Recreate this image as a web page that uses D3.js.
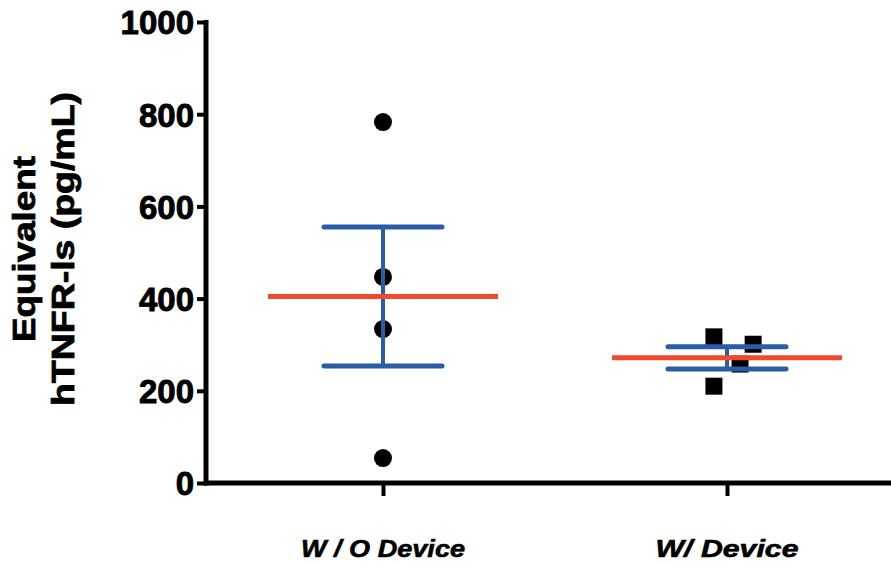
<!DOCTYPE html>
<html>
<head>
<meta charset="utf-8">
<script src="https://cdn.jsdelivr.net/npm/d3@7"></script>
<style>
  body { margin: 0; background: #fff; }
  text { font-family: "Liberation Sans", Arial, sans-serif; font-weight: bold; }
</style>
</head>
<body>
<svg id="drawing_region"></svg>
<script>
// data
const categories = ["W / O Device", "W/ Device"];
const withoutDevice = [783, 447, 334, 54];
const withDevice = [317, 301, 258, 210];
const jitterWithout = [0, 0, 0, 0];
const jitterWith = [-0.038, 0.076, 0.038, -0.038];
const yTicks = [0, 200, 400, 600, 800, 1000];

const groups = [
    { name: categories[0], values: withoutDevice, jitter: jitterWithout, shape: 'circle' },
    { name: categories[1], values: withDevice, jitter: jitterWith, shape: 'square' }
];

const width = 891, height = 563;

const svg = d3.select('#drawing_region')
    .attr('width', width)
    .attr('height', height);

const y = d3.scaleLinear().domain([0, 1000]).range([483, 22]);
const x = d3.scalePoint().domain(categories).range([211, 899]).padding(0.5);
const step = x.step();

const blue = '#2b5ca8', red = '#f2482e';

// y axis
const yAxis = svg.append('g')
    .attr('transform', 'translate(206,0)')
    .call(d3.axisLeft(y).tickValues(yTicks).tickFormat(d3.format('d'))
        .tickSize(9).tickPadding(3).tickSizeOuter(0));
yAxis.select('.domain').remove();
yAxis.selectAll('.tick line').attr('stroke', '#000').attr('stroke-width', 4);
yAxis.selectAll('.tick text')
    .attr('fill', '#000')
    .attr('stroke', '#000')
    .attr('stroke-width', 0.9)
    .style('font-size', '33px')
    .attr('dy', '0.36em');
svg.append('line')
    .attr('x1', 206).attr('x2', 206)
    .attr('y1', y(1000) - 2).attr('y2', y(0) + 2.5)
    .attr('stroke', '#000').attr('stroke-width', 5);

// x axis
const xAxis = svg.append('g')
    .attr('transform', `translate(0,${y(0)})`)
    .call(d3.axisBottom(x).tickSize(13).tickSizeOuter(0).tickFormat(''));
xAxis.select('.domain').remove();
xAxis.selectAll('.tick line').attr('stroke', '#000').attr('stroke-width', 4);
svg.append('line')
    .attr('x1', 204).attr('x2', width)
    .attr('y1', y(0)).attr('y2', y(0))
    .attr('stroke', '#000').attr('stroke-width', 5);

svg.selectAll('.xlabel')
    .data(categories)
    .enter()
    .append('text')
    .attr('class', 'xlabel')
    .attr('x', d => x(d))
    .attr('y', 557)
    .attr('text-anchor', 'middle')
    .attr('stroke', '#000')
    .attr('stroke-width', 0.6)
    .style('font-size', '24px')
    .style('font-style', 'italic')
    .attr('textLength', (d, i) => i === 0 ? 164 : 143)
    .attr('lengthAdjust', 'spacingAndGlyphs')
    .text(d => d);

// y axis title
const title = svg.append('g')
    .attr('transform', 'translate(0,249) rotate(-90)')
    .attr('stroke', '#000')
    .attr('stroke-width', 0.8);
title.append('text')
    .attr('x', 0).attr('y', 35)
    .attr('text-anchor', 'middle')
    .style('font-size', '31px')
    .attr('textLength', 186)
    .attr('lengthAdjust', 'spacingAndGlyphs')
    .text('Equivalent');
title.append('text')
    .attr('x', 0).attr('y', 74)
    .attr('text-anchor', 'middle')
    .style('font-size', '31px')
    .attr('textLength', 314)
    .attr('lengthAdjust', 'spacingAndGlyphs')
    .text('hTNFR-ls (pg/mL)');

// points, mean and SEM
groups.forEach(g => {
    const cx = x(g.name);
    const mean = d3.mean(g.values);
    const sem = d3.deviation(g.values) / Math.sqrt(g.values.length);

    const pts = svg.append('g');
    if (g.shape === 'circle') {
        pts.selectAll('circle')
            .data(g.values)
            .enter()
            .append('circle')
            .attr('cx', (d, i) => cx + g.jitter[i] * step)
            .attr('cy', d => y(d))
            .attr('r', 9)
            .attr('fill', '#000');
    } else {
        pts.selectAll('rect')
            .data(g.values)
            .enter()
            .append('rect')
            .attr('x', (d, i) => cx + g.jitter[i] * step - 8.5)
            .attr('y', d => y(d) - 8.5)
            .attr('width', 17).attr('height', 17)
            .attr('fill', '#000');
    }

    const err = svg.append('g').attr('stroke', blue).attr('stroke-linecap', 'round');
    err.append('line')
        .attr('x1', cx).attr('x2', cx)
        .attr('y1', y(mean + sem)).attr('y2', y(mean - sem))
        .attr('stroke-width', 4);
    [mean + sem, mean - sem].forEach(v => {
        err.append('line')
            .attr('x1', cx - 59).attr('x2', cx + 59)
            .attr('y1', y(v)).attr('y2', y(v))
            .attr('stroke-width', 5);
    });

    svg.append('line')
        .attr('x1', cx - 115).attr('x2', cx + 115)
        .attr('y1', y(mean)).attr('y2', y(mean))
        .attr('stroke', red).attr('stroke-width', 5);
});
</script>
</body>
</html>
